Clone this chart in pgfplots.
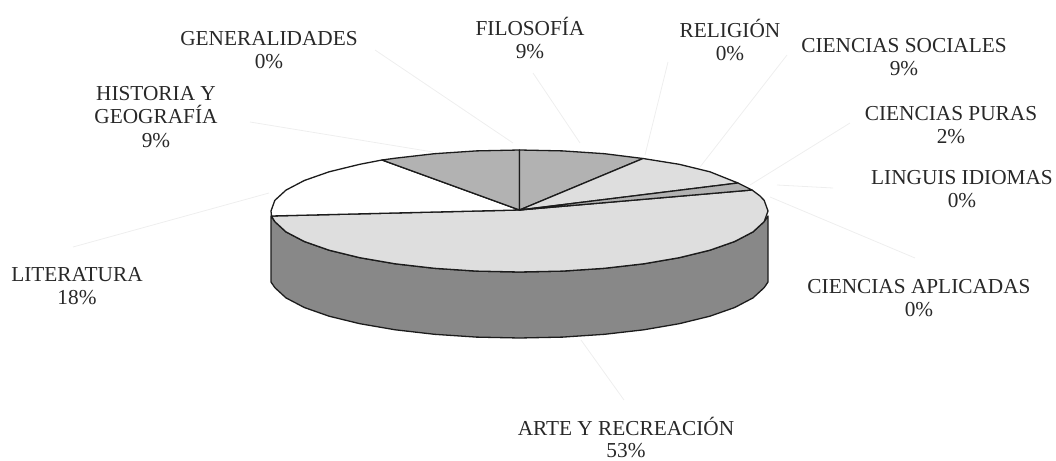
\documentclass[border=0pt]{standalone}
\usepackage{fontspec}
\setmainfont{Liberation Serif}
\usepackage{pgfplots}
\pgfplotsset{compat=1.18}
\definecolor{wallgrey}{RGB}{136,136,136}
\definecolor{midgrey}{RGB}{178,178,178}
\definecolor{lightgrey}{RGB}{222,222,222}
\definecolor{edgegrey}{RGB}{28,28,28}
\definecolor{leadgrey}{RGB}{238,238,238}
\definecolor{textgrey}{RGB}{40,40,40}
\tikzset{
  pie/.style={draw=edgegrey,line width=1.3bp,line join=round},
  lead/.style={draw=leadgrey,line width=.8bp},
  lab/.style={align=center,text=textgrey,font=\fontsize{21.3bp}{23.6bp}\selectfont,inner sep=0pt}}
\begin{document}
\begin{tikzpicture}
\begin{axis}[
  scale only axis,width=1056bp,height=461bp,
  xmin=0,xmax=1056,ymin=0,ymax=461,
  y dir=reverse,hide axis,clip=false]
\path (axis cs:0,0) rectangle (axis cs:1056,461);

% faint leader lines
\addplot[lead] coordinates {(375,50) (513,143)};
\addplot[lead] coordinates {(533,73) (580,143)};
\addplot[lead] coordinates {(668,62) (645,155)};
\addplot[lead] coordinates {(787,55) (700,167)};
\addplot[lead] coordinates {(850,123) (750,185)};
\addplot[lead] coordinates {(833,188) (777,185)};
\addplot[lead] coordinates {(915,258) (770,197)};
\addplot[lead] coordinates {(250,122) (433,152)};
\addplot[lead] coordinates {(73,247) (269,193)};
\addplot[lead] coordinates {(624,400) (581,340)};

% side wall
\addplot[pie,fill=wallgrey] coordinates {
(768,216) (768,282) (764.2,287.6) (753,297.9) (734.7,307.5) (709.9,316.2)
(679.2,323.7) (643.8,329.8) (604.5,334.3) (562.7,337.1) (519.5,338)
(476.3,337.1) (434.5,334.3) (395.2,329.8) (359.8,323.7) (329.1,316.2)
(304.3,307.5) (286,297.9) (274.8,287.6) (271,282) (271,216)
(274.8,221.6) (286,231.9) (304.3,241.5) (329.1,250.2) (359.8,257.7)
(395.2,263.8) (434.5,268.3) (476.3,271.1) (519.5,272) (562.7,271.1)
(604.5,268.3) (643.8,263.8) (679.2,257.7) (709.9,250.2) (734.7,241.5)
(753,231.9) (764.2,221.6)} --cycle;

% arte y recreacion
\addplot[pie,fill=lightgrey] coordinates {
(519.5,210) (752,190) (760,196) (764.2,200.4) (768,211) (764.2,221.6) (753,231.9)
(734.7,241.5) (709.9,250.2) (679.2,257.7) (643.8,263.8) (604.5,268.3)
(562.7,271.1) (519.5,272) (476.3,271.1) (434.5,268.3) (395.2,263.8)
(359.8,257.7) (329.1,250.2) (304.3,241.5) (286,231.9) (274.8,221.6) (271.5,216)} --cycle;

% literatura
\addplot[pie,fill=white] coordinates {
(519.5,210) (271.5,216) (271,211) (274.8,200.4) (286,190.1) (304.3,180.5)
(329.1,171.8) (359.8,164.3) (382,160)} --cycle;

% historia y geografia
\addplot[pie,fill=midgrey] coordinates {
(519.5,210) (382,160) (395.2,158.2) (434.5,153.7) (476.3,150.9) (519.5,150)} --cycle;

% filosofia
\addplot[pie,fill=midgrey] coordinates {
(519.5,210) (519.5,150) (562.7,150.9) (604.5,153.7) (643,158.5)} --cycle;

% ciencias sociales
\addplot[pie,fill=lightgrey] coordinates {
(519.5,210) (643,158.5) (679.2,164.3) (709.9,171.8) (738,183)} --cycle;

% ciencias puras
\addplot[pie,fill=midgrey] coordinates {
(519.5,210) (738,183) (752,190)} --cycle;

\node[lab] at (axis cs:269,50) {GENERALIDADES\\0\%};
\node[lab] at (axis cs:530,38) {FILOSOFÍA\\9\%};
\node[lab] at (axis cs:730,40) {RELIGIÓN\\0\%};
\node[lab] at (axis cs:904,57) {CIENCIAS SOCIALES\\9\%};
\node[lab] at (axis cs:951,125) {CIENCIAS PURAS\\2\%};
\node[lab] at (axis cs:962,189) {LINGUIS IDIOMAS\\0\%};
\node[lab] at (axis cs:919,298) {CIENCIAS APLICADAS\\0\%};
\node[lab,font=\fontsize{21.3bp}{22bp}\selectfont] at (axis cs:626,437) {ARTE Y RECREACIÓN\\53\%};
\node[lab] at (axis cs:77,286) {LITERATURA\\18\%};
\node[lab] at (axis cs:156,117) {HISTORIA Y\\GEOGRAFÍA\\9\%};
\end{axis}
\end{tikzpicture}
\end{document}
